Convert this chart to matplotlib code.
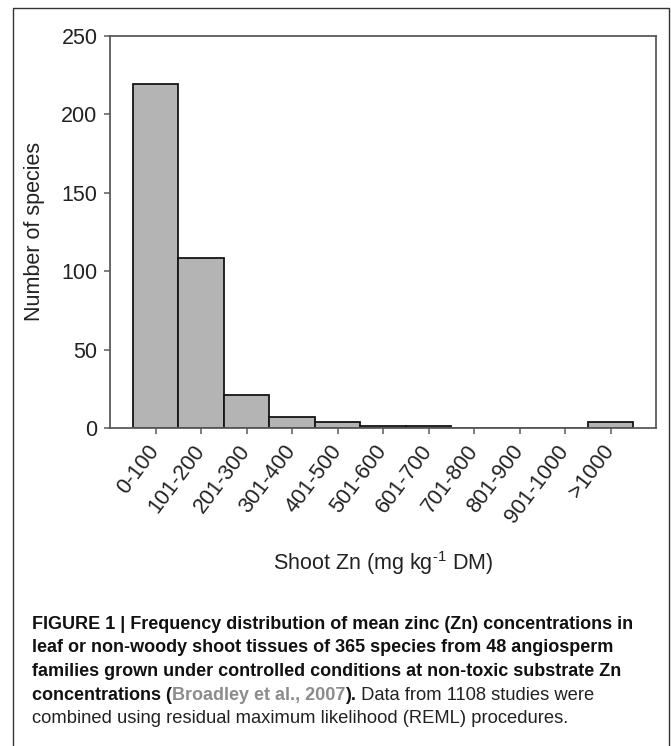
import matplotlib
matplotlib.use("Agg")
import matplotlib.pyplot as plt
from matplotlib.lines import Line2D
from matplotlib.transforms import ScaledTranslation

# Shoot Zn classes (mg/kg DM) and number of species in each
zn_bins = ["0-100", "101-200", "201-300", "301-400", "401-500", "501-600",
           "601-700", "701-800", "801-900", "901-1000", ">1000"]
n_species = [219, 108, 21, 7, 4, 1, 1, 0, 0, 0, 4]
y_ticks = [0, 50, 100, 150, 200, 250]

# caption, one list of (text, bold, colour) pieces per line
caption = [
    [("FIGURE 1 | Frequency distribution of mean zinc (Zn) concentrations in", True, "#111111")],
    [("leaf or non-woody shoot tissues of 365 species from 48 angiosperm", True, "#111111")],
    [("families grown under controlled conditions at non-toxic substrate Zn", True, "#111111")],
    [("concentrations (", True, "#111111"), ("Broadley et al., 2007", True, "#8c8c8c"),
     (").", True, "#111111"), (" Data from 1108 studies were", False, "#222222")],
    [("combined using residual maximum likelihood (REML) procedures.", False, "#222222")],
]

W, H = 671, 746
plt.rcParams["font.family"] = ["Liberation Sans", "DejaVu Sans"]
plt.rcParams["mathtext.fontset"] = "custom"
plt.rcParams["mathtext.rm"] = "Liberation Sans"

fig = plt.figure(figsize=(W / 100, H / 100), dpi=100)
ax = fig.add_axes([110 / W, 1 - 428 / H, 546 / W, 392.5 / H])

x = list(range(len(zn_bins)))
ax.bar(x, n_species, width=1.0, color="#b4b4b4", edgecolor="#151515", linewidth=1.3, zorder=2)

ax.set_xlim(-1, 11)
ax.set_ylim(0, 250)
ax.set_yticks(y_ticks)
ax.set_xticks(x)
ax.set_xticklabels(zn_bins, rotation=53, ha="right", va="center", rotation_mode="anchor")
for lab in ax.get_xticklabels():
    lab.set_transform(lab.get_transform() + ScaledTranslation(8 / 100, 0, fig.dpi_scale_trans))

for s in ax.spines.values():
    s.set_color("#5a5a5a")
    s.set_linewidth(1.3)
ax.tick_params(axis="y", direction="out", length=4, width=1.1, color="#5a5a5a",
               labelsize=15.5, labelcolor="#222222", pad=5)
ax.tick_params(axis="x", direction="out", length=4, width=1.1, color="#5a5a5a",
               labelsize=15.5, labelcolor="#222222", pad=10)

ax.set_ylabel("Number of species", fontsize=15.5, color="#222222", labelpad=12)
fig.text(383 / W, 1 - 563 / H, r"Shoot Zn (mg kg$^{\text{-1}}$ DM)", fontsize=15.5,
         color="#222222", ha="center", va="center")

# caption lines, pieces chained one after another
base_y = 629
for i, pieces in enumerate(caption):
    prev = None
    for text, bold, col in pieces:
        kw = dict(fontsize=13.0 if bold else 13.2, fontweight="bold" if bold else "normal", color=col)
        if prev is None:
            prev = fig.text(32 / W, 1 - (base_y + i * 23.5) / H, text, ha="left", va="baseline", **kw)
        else:
            prev = ax.annotate(text, xy=(1, 0), xycoords=prev, ha="left", va="bottom",
                               annotation_clip=False, **kw)

# outer frame (open at the bottom)
fig.add_artist(Line2D([13 / W, 13 / W, 669 / W, 669 / W],
                      [-0.01, 1 - 8 / H, 1 - 8 / H, -0.01],
                      transform=fig.transFigure, color="#333333", linewidth=1.0))

fig.savefig("out.png", dpi=100)
